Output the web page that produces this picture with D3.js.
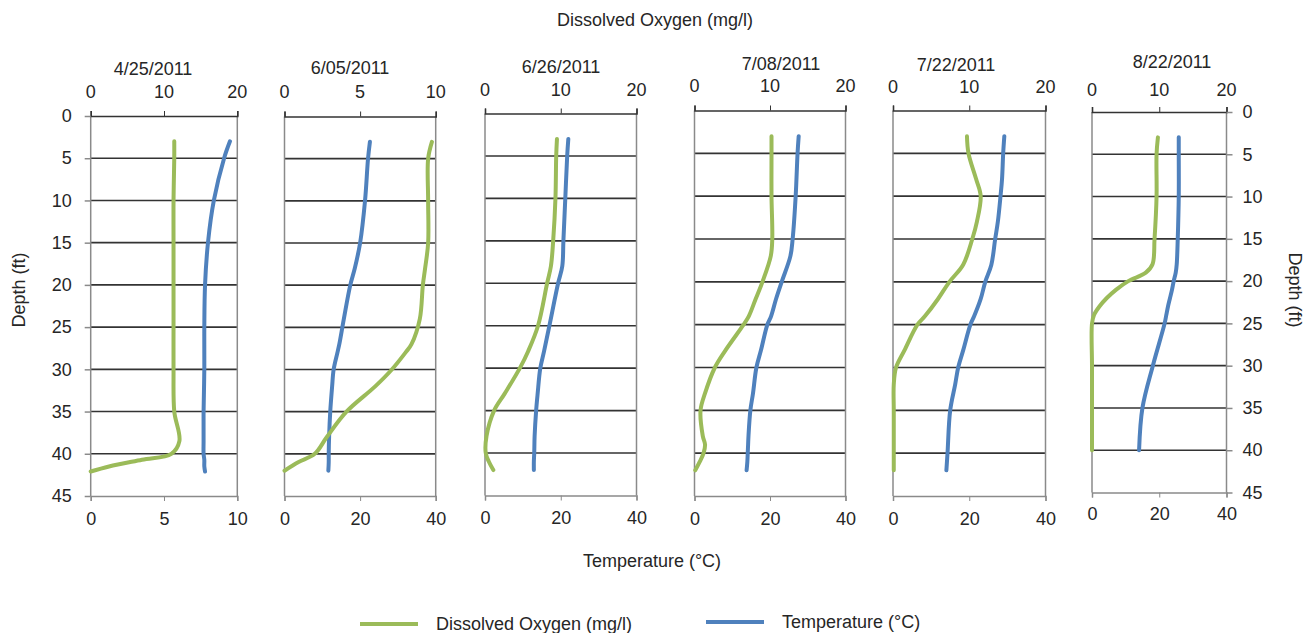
<!DOCTYPE html>
<html>
<head>
<meta charset="utf-8">
<script src="https://cdn.jsdelivr.net/npm/d3@7"></script>
<style>
  body { margin: 0; background: #fff; }
  svg text { font-family: "Liberation Sans", Arial, sans-serif; fill: #262626; }
</style>
</head>
<body>
<div id="chart"></div>
<script>
// sampling dates, one panel each
const dates = ["4/25/2011", "6/05/2011", "6/26/2011", "7/08/2011", "7/22/2011", "8/22/2011"];
const doAxisMax = [20, 10, 20, 20, 20, 20];      // top axis, mg/l
const tempAxisMax = [10, 40, 40, 40, 40, 40];    // bottom axis, °C
const depthTicks = [0, 5, 10, 15, 20, 25, 30, 35, 40, 45];

// profiles (depth ft, DO mg/l, temp °C)
const depth0425 = [3, 5, 10, 15, 20, 25, 30, 35, 38.5, 40, 40.7, 41.5, 42.1];
const do0425    = [11.4, 11.4, 11.3, 11.3, 11.3, 11.3, 11.3, 11.4, 12.1, 11.0, 7.0, 2.5, 0];
const temp0425  = [9.5, 9.1, 8.4, 8.0, 7.8, 7.75, 7.75, 7.7, 7.7, 7.7, 7.75, 7.75, 7.8];

const depth0605 = [3, 5, 10, 15, 18, 20, 24, 27, 28, 30, 32, 35, 38, 40, 41, 42];
const do0605    = [9.75, 9.5, 9.5, 9.5, 9.3, 9.15, 8.95, 8.4, 8.0, 7.1, 6.0, 4.1, 2.8, 2.0, 0.9, 0];
const temp0605  = [22.6, 22.1, 21.3, 20.0, 18.6, 17.4, 15.7, 14.5, 14.0, 13.0, 12.6, 12.1, 11.8, 11.7, 11.7, 11.6];

const depth0626 = [3, 5, 10, 15, 18, 20, 25, 28, 30, 33, 35, 38, 40, 41, 42];
const do0626    = [9.5, 9.4, 9.3, 9.0, 8.7, 8.2, 7.0, 5.7, 4.6, 2.6, 1.2, 0.2, 0.1, 0.5, 1.1];
const temp0626  = [22.0, 21.7, 21.2, 20.7, 20.4, 19.3, 17.0, 15.6, 14.6, 13.9, 13.5, 13.1, 13.0, 12.9, 12.9];

const depth0708 = [3, 5, 10, 15, 17, 20, 22, 24, 25, 28, 30, 33, 35, 38, 39, 40, 41, 42];
const do0708    = [10.2, 10.2, 10.2, 10.3, 10.1, 9.0, 8.1, 7.2, 6.5, 4.1, 2.7, 1.4, 0.8, 1.1, 1.4, 1.2, 0.7, 0.1];
const temp0708  = [27.6, 27.3, 26.8, 26.0, 25.4, 23.1, 21.6, 20.3, 19.3, 17.6, 16.4, 15.5, 14.8, 14.3, 14.2, 14.1, 14.0, 13.8];

const depth0722 = [3, 5, 8, 10, 13, 15, 18, 20, 22, 24, 25, 28, 30, 32, 35, 40, 42];
const do0722    = [9.7, 9.9, 10.9, 11.5, 11.0, 10.4, 9.2, 7.4, 5.9, 4.2, 3.2, 1.5, 0.4, 0.1, 0.1, 0.1, 0.1];
const temp0722  = [29.2, 28.9, 28.6, 28.2, 27.5, 26.8, 25.8, 24.2, 23.0, 21.3, 20.3, 18.4, 17.1, 16.3, 15.0, 14.3, 14.0];

const depth0822 = [3, 5, 10, 15, 18, 19, 20, 21, 22, 23, 24, 25, 30, 35, 40];
const do0822    = [9.8, 9.6, 9.6, 9.3, 9.0, 8.0, 5.4, 3.6, 2.2, 1.1, 0.3, 0, 0, 0, 0];
const temp0822  = [25.8, 25.8, 25.8, 25.5, 25.2, 24.9, 24.3, 23.8, 23.2, 22.6, 22.1, 21.6, 18.1, 15.0, 14.0];

const depths = [depth0425, depth0605, depth0626, depth0708, depth0722, depth0822];
const doSeries = [do0425, do0605, do0626, do0708, do0722, do0822];
const tempSeries = [temp0425, temp0605, temp0626, temp0708, temp0722, temp0822];

// panel boxes (the panels were pasted side by side, so they don't line up exactly)
const boxes = [
  { x0: 90.7, x1: 237.3, y0: 116, y1: 496, titleX: 153, titleY: 69, topLabY: 92, botPad: 11 },
  { x0: 284.5, x1: 435.7, y0: 116.5, y1: 496, titleX: 350, titleY: 68, topLabY: 92, botPad: 11 },
  { x0: 485, x1: 636.5, y0: 113.5, y1: 495.5, titleX: 561, titleY: 67, topLabY: 90, botPad: 11 },
  { x0: 694.5, x1: 845.5, y0: 110.5, y1: 496, titleX: 781, titleY: 64, topLabY: 85.5, botPad: 11 },
  { x0: 893, x1: 1045.5, y0: 110.5, y1: 496, titleX: 956, titleY: 65, topLabY: 86.5, botPad: 11 },
  { x0: 1092, x1: 1226.5, y0: 112, y1: 492.5, titleX: 1172, titleY: 62, topLabY: 90, botPad: 10 }
];

const green = "#9bbb59", blue = "#4f81bd";
const fontSize = 18;

const svg = d3.select("#chart").append("svg")
  .attr("width", 1312)
  .attr("height", 633);

dates.forEach(function (date, i) {
  const b = boxes[i];
  const y = d3.scaleLinear().domain([0, 45]).range([b.y0, b.y1]);
  const xDo = d3.scaleLinear().domain([0, doAxisMax[i]]).range([b.x0, b.x1]);
  const xT = d3.scaleLinear().domain([0, tempAxisMax[i]]).range([b.x0, b.x1]);

  const g = svg.append("g").attr("class", "panel");

  // horizontal grid
  g.selectAll(".grid")
    .data(depthTicks.slice(1, -1))
    .enter().append("line")
    .attr("x1", b.x0).attr("x2", b.x1)
    .attr("y1", d => y(d)).attr("y2", d => y(d))
    .attr("stroke", "#333")
    .attr("stroke-width", 1.6);

  // side borders
  [b.x0, b.x1].forEach(function (xx) {
    g.append("line")
      .attr("x1", xx).attr("x2", xx)
      .attr("y1", b.y0).attr("y2", b.y1)
      .attr("stroke", "#8a8a8a")
      .attr("stroke-width", 1.5);
  });

  // top axis: DO
  const topAxis = g.append("g")
    .attr("transform", "translate(0," + b.y0 + ")")
    .call(d3.axisTop(xDo).tickValues([0, doAxisMax[i] / 2, doAxisMax[i]]).tickSize(5).tickPadding(0));
  topAxis.select(".domain").attr("stroke", "#333").attr("stroke-width", 1.6);
  topAxis.selectAll(".tick line").attr("stroke", "#333");
  topAxis.selectAll(".tick text").remove();
  g.selectAll(".toplab")
    .data([0, doAxisMax[i] / 2, doAxisMax[i]])
    .enter().append("text")
    .attr("x", d => xDo(d))
    .attr("y", b.topLabY)
    .attr("dy", "0.35em")
    .attr("text-anchor", "middle")
    .attr("font-size", fontSize)
    .text(d => d);

  // bottom axis: temperature
  const botAxis = g.append("g")
    .attr("transform", "translate(0," + b.y1 + ")")
    .call(d3.axisBottom(xT).tickValues([0, tempAxisMax[i] / 2, tempAxisMax[i]]).tickSize(5).tickPadding(b.botPad));
  botAxis.select(".domain").attr("stroke", "#8a8a8a").attr("stroke-width", 1.5);
  botAxis.selectAll(".tick line").attr("stroke", "#8a8a8a");
  botAxis.selectAll(".tick text")
    .attr("font-size", fontSize)
    .attr("font-family", "Liberation Sans, Arial, sans-serif")
    .attr("fill", "#262626");

  // depth axes on the outer panels
  if (i === 0 || i === dates.length - 1) {
    const ax = i === 0
      ? d3.axisLeft(y).tickValues(depthTicks).tickSize(6).tickPadding(13)
      : d3.axisRight(y).tickValues(depthTicks).tickSize(6).tickPadding(10);
    const side = g.append("g")
      .attr("transform", "translate(" + (i === 0 ? b.x0 : b.x1) + ",0)")
      .call(ax);
    side.select(".domain").remove();
    side.selectAll(".tick line").attr("stroke", "#8a8a8a").attr("stroke-width", 1.5);
    side.selectAll(".tick text")
      .attr("font-size", fontSize)
      .attr("font-family", "Liberation Sans, Arial, sans-serif")
      .attr("fill", "#262626");
  }

  // panel title
  g.append("text")
    .attr("x", b.titleX)
    .attr("y", b.titleY)
    .attr("dy", "0.35em")
    .attr("text-anchor", "middle")
    .attr("font-size", fontSize)
    .text(date);

  // profiles
  const pts = depths[i].map((d, k) => ({ depth: d, ox: doSeries[i][k], temp: tempSeries[i][k] }));

  const doLine = d3.line()
    .x(d => xDo(d.ox))
    .y(d => y(d.depth))
    .curve(d3.curveCatmullRom.alpha(0.5));
  const tLine = d3.line()
    .x(d => xT(d.temp))
    .y(d => y(d.depth))
    .curve(d3.curveCatmullRom.alpha(0.5));

  g.append("path")
    .datum(pts)
    .attr("d", tLine)
    .attr("fill", "none")
    .attr("stroke", blue)
    .attr("stroke-width", 4)
    .attr("stroke-linecap", "round");

  g.append("path")
    .datum(pts)
    .attr("d", doLine)
    .attr("fill", "none")
    .attr("stroke", green)
    .attr("stroke-width", 4)
    .attr("stroke-linecap", "round");
});

// overall axis titles
svg.append("text")
  .attr("x", 655).attr("y", 20).attr("dy", "0.35em")
  .attr("text-anchor", "middle")
  .attr("font-size", fontSize)
  .text("Dissolved Oxygen (mg/l)");

svg.append("text")
  .attr("x", 652).attr("y", 561).attr("dy", "0.35em")
  .attr("text-anchor", "middle")
  .attr("font-size", fontSize)
  .text("Temperature (°C)");

svg.append("text")
  .attr("transform", "translate(19,290) rotate(-90)")
  .attr("dy", "0.35em")
  .attr("text-anchor", "middle")
  .attr("font-size", fontSize)
  .text("Depth (ft)");

svg.append("text")
  .attr("transform", "translate(1295,290) rotate(90)")
  .attr("dy", "0.35em")
  .attr("text-anchor", "middle")
  .attr("font-size", fontSize)
  .text("Depth (ft)");

// legend
const legendItems = [
  { label: "Dissolved Oxygen (mg/l)", color: green, x: 360, y: 624 },
  { label: "Temperature (°C)", color: blue, x: 706, y: 622 }
];
const leg = svg.selectAll(".legend")
  .data(legendItems)
  .enter().append("g")
  .attr("class", "legend")
  .attr("transform", d => "translate(" + d.x + "," + d.y + ")");
leg.append("line")
  .attr("x1", 0).attr("x2", 58)
  .attr("stroke", d => d.color)
  .attr("stroke-width", 4);
leg.append("text")
  .attr("x", 76)
  .attr("dy", "0.35em")
  .attr("font-size", fontSize)
  .text(d => d.label);
</script>
</body>
</html>
